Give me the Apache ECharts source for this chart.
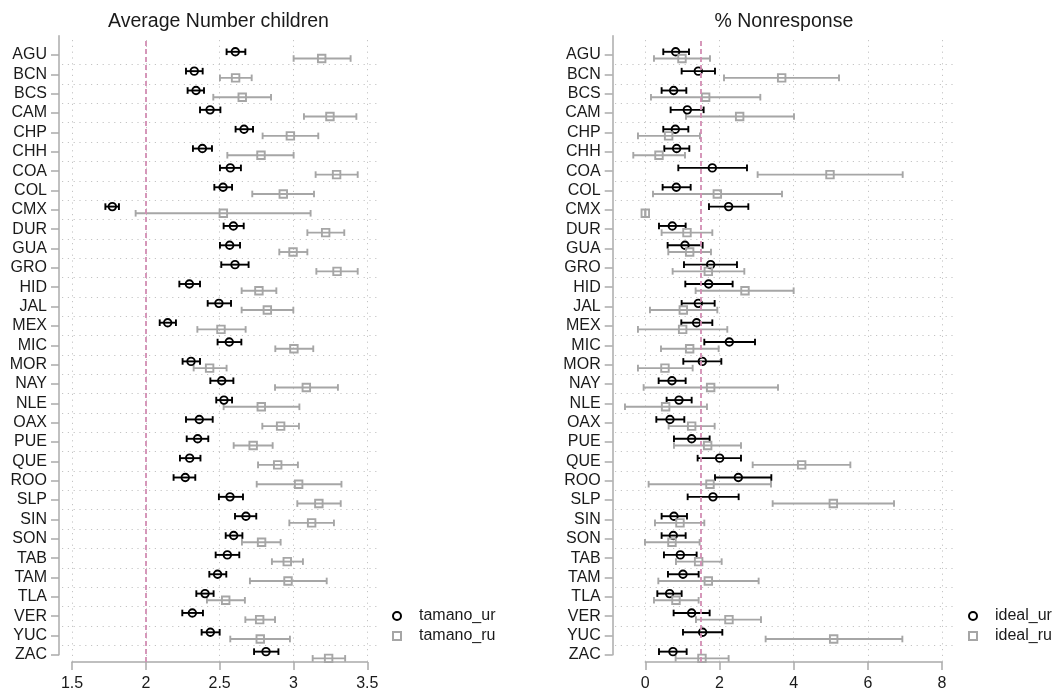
<!DOCTYPE html>
<html>
<head>
<meta charset="utf-8">
<script src="https://cdn.jsdelivr.net/npm/echarts@6/dist/echarts.min.js"></script>
<style>html,body{margin:0;padding:0;background:#fff}#c{width:1052px;height:692px}</style>
</head>
<body>
<div id="c"></div>
<script>
const states = ['AGU','BCN','BCS','CAM','CHP','CHH','COA','COL','CMX','DUR','GUA','GRO','HID','JAL','MEX','MIC','MOR','NAY','NLE','OAX','PUE','QUE','ROO','SLP','SIN','SON','TAB','TAM','TLA','VER','YUC','ZAC'];

// Average number of children
const tamano_ur_est = [2.606,2.328,2.340,2.435,2.665,2.383,2.572,2.523,1.773,2.593,2.568,2.604,2.295,2.495,2.148,2.565,2.306,2.514,2.529,2.362,2.351,2.297,2.267,2.570,2.678,2.595,2.552,2.486,2.401,2.315,2.437,2.814];
const tamano_ur_lo  = [2.547,2.272,2.283,2.367,2.608,2.319,2.502,2.464,1.726,2.527,2.502,2.511,2.227,2.419,2.094,2.486,2.249,2.437,2.477,2.272,2.277,2.231,2.188,2.495,2.604,2.541,2.473,2.430,2.342,2.247,2.378,2.733];
const tamano_ur_hi  = [2.674,2.385,2.394,2.505,2.726,2.448,2.644,2.584,1.818,2.663,2.638,2.696,2.367,2.577,2.204,2.647,2.367,2.593,2.584,2.453,2.423,2.370,2.335,2.658,2.748,2.654,2.633,2.545,2.459,2.387,2.500,2.898];
const tamano_ru_est = [3.191,2.608,2.653,3.247,2.979,2.780,3.292,2.931,2.525,3.218,2.997,3.295,2.766,2.823,2.509,3.003,2.432,3.087,2.782,2.913,2.727,2.893,3.035,3.172,3.123,2.784,2.958,2.963,2.541,2.771,2.775,3.238];
const tamano_ru_lo  = [3.001,2.502,2.457,3.071,2.791,2.552,3.150,2.721,1.931,3.094,2.904,3.155,2.649,2.649,2.349,2.877,2.324,2.875,2.527,2.789,2.595,2.760,2.751,3.026,2.972,2.651,2.854,2.705,2.414,2.674,2.572,3.130];
const tamano_ru_hi  = [3.387,2.717,2.848,3.426,3.168,3.001,3.435,3.139,3.116,3.344,3.094,3.435,2.884,2.999,2.676,3.134,2.547,3.301,3.040,3.037,2.859,3.030,3.325,3.320,3.274,2.913,3.064,3.225,2.671,2.875,2.976,3.350];

// % Nonresponse
const ideal_ur_est = [0.818,1.429,0.764,1.133,0.809,0.845,1.807,0.836,2.247,0.728,1.070,1.762,1.708,1.429,1.384,2.265,1.537,0.719,0.908,0.665,1.250,2.005,2.508,1.825,0.773,0.755,0.944,1.016,0.656,1.250,1.546,0.746];
const ideal_ur_lo  = [0.485,0.980,0.440,0.683,0.485,0.512,0.890,0.467,1.717,0.369,0.602,1.043,1.079,0.980,0.971,1.591,1.025,0.360,0.575,0.297,0.773,1.411,1.879,1.142,0.440,0.440,0.503,0.611,0.324,0.764,1.016,0.369];
const ideal_ur_hi  = [1.178,1.879,1.106,1.573,1.160,1.187,2.742,1.223,2.778,1.088,1.546,2.472,2.355,1.870,1.807,2.958,2.050,1.088,1.250,1.052,1.735,2.580,3.398,2.517,1.124,1.088,1.384,1.438,0.980,1.735,2.077,1.115];
const ideal_ru_est = [0.989,3.677,1.627,2.544,0.629,0.369,4.980,1.942,0.000,1.124,1.196,1.699,2.688,1.025,1.007,1.196,0.530,1.762,0.548,1.250,1.681,4.216,1.744,5.070,0.935,0.719,1.438,1.699,0.827,2.256,5.079,1.528];
const ideal_ru_lo  = [0.234,2.122,0.153,1.097,-0.198,-0.324,3.029,0.207,0.000,0.440,0.620,0.737,1.357,0.126,-0.198,0.423,-0.198,-0.045,-0.548,0.629,0.773,2.895,0.090,3.434,0.261,-0.009,0.827,0.351,0.234,1.366,3.245,0.818];
const ideal_ru_hi  = [1.744,5.223,3.101,4.009,1.474,1.070,6.940,3.686,0.000,1.807,1.771,2.670,4.000,1.942,2.211,1.978,1.277,3.578,1.663,1.870,2.580,5.529,3.389,6.706,1.591,1.465,2.059,3.056,1.438,3.119,6.931,2.247];

const xTicksLeft  = {min: 1.5, max: 3.5, step: 0.5};
const xTicksRight = {min: 0, max: 8, step: 2};
const refLeft = 2;
const refRight = 1.5;

const titles = ['Average Number children', '% Nonresponse'];
const legendNames = [['tamano_ur','tamano_ru'], ['ideal_ur','ideal_ru']];

// ---------- styling / layout ----------
const FONT = '"Liberation Sans", Arial, Helvetica, sans-serif';
const TXT = '#1a1a1a';
const AXC = '#ababab';
const GRIDC = '#c4c4c4';
const BLACK = '#000000';
const GREY = '#a6a6a6';
const PINK = '#d28db3';

const catTop = 55, catStep = 19.35;
const dataTop = catTop - catStep, dataH = catStep * 32;
const hTop = catTop - catStep / 2, hH = catStep * 32;
const axTop = 40, axBottom = 663;

const panels = [
  {axisX: 59, plotR: 378, t0px: 72, t1px: 367.3, ticks: xTicksLeft, ref: refLeft, hL: 62, hR: 377,
   ur: [tamano_ur_est, tamano_ur_lo, tamano_ur_hi], ru: [tamano_ru_est, tamano_ru_lo, tamano_ru_hi],
   legendLeft: 392},
  {axisX: 612.7, plotR: 955, t0px: 645.3, t1px: 942, ticks: xTicksRight, ref: refRight, hL: 615, hR: 955,
   ur: [ideal_ur_est, ideal_ur_lo, ideal_ur_hi], ru: [ideal_ru_est, ideal_ru_lo, ideal_ru_hi],
   legendLeft: 968}
];

const grids = [], xAxes = [], yAxes = [], series = [], titleOpts = [], legends = [];
const yCats = [' '].concat(states);
const dotted = [1.2, 4.6];

function errRender(color, off) {
  return function (params, api) {
    const y = api.value(2);
    const a = api.coord([api.value(0), y]);
    const b = api.coord([api.value(1), y]);
    const cy = a[1] + off, h = 3.3;
    const st = {stroke: color, lineWidth: 1.9, fill: null};
    return {type: 'group', children: [
      {type: 'line', shape: {x1: a[0], y1: cy, x2: b[0], y2: cy}, style: st},
      {type: 'line', shape: {x1: a[0], y1: cy - h, x2: a[0], y2: cy + h}, style: st},
      {type: 'line', shape: {x1: b[0], y1: cy - h, x2: b[0], y2: cy + h}, style: st}
    ]};
  };
}

panels.forEach(function (p, k) {
  const ppu = (p.t1px - p.t0px) / (p.ticks.max - p.ticks.min);
  const xmin = p.ticks.min - (p.t0px - p.axisX) / ppu;
  const xmax = p.ticks.max + (p.plotR - p.t1px) / ppu;
  const gD = grids.length, gA = gD + 1, gH = gD + 2;

  grids.push({left: p.axisX, top: dataTop, width: p.plotR - p.axisX, height: dataH});
  grids.push({left: p.t0px, top: axTop, width: p.t1px - p.t0px, height: axBottom - axTop});
  grids.push({left: p.hL, top: hTop, width: p.hR - p.hL, height: hH});

  // data grid axes
  xAxes.push({gridIndex: gD, type: 'value', min: xmin, max: xmax, show: false});
  yAxes.push({gridIndex: gD, type: 'category', data: yCats, inverse: true, boundaryGap: false, position: 'left',
    axisLine: {show: true, onZero: false, lineStyle: {color: AXC, width: 1.5}},
    axisTick: {show: true, length: 8, interval: function (i) { return i > 0; }, lineStyle: {color: AXC, width: 1.5}},
    axisLabel: {show: true, interval: 0, fontSize: 16, margin: 12, color: TXT, fontFamily: FONT},
    splitLine: {show: false}});

  // tick axis grid
  xAxes.push({gridIndex: gA, type: 'value', min: p.ticks.min, max: p.ticks.max, interval: p.ticks.step, position: 'bottom',
    axisLine: {show: true, onZero: false, lineStyle: {color: AXC, width: 1.5}},
    axisTick: {show: true, length: 8, lineStyle: {color: AXC, width: 1.5}},
    axisLabel: {fontSize: 16, margin: 14, color: TXT, fontFamily: FONT},
    splitLine: {show: true, lineStyle: {color: GRIDC, width: 1, type: dotted}}});
  yAxes.push({gridIndex: gA, type: 'value', min: 0, max: 1, show: false});

  // horizontal grid lines between categories
  xAxes.push({gridIndex: gH, type: 'value', min: 0, max: 1, show: false});
  yAxes.push({gridIndex: gH, type: 'category', data: states, inverse: true, boundaryGap: true,
    axisLine: {show: false, onZero: false}, axisTick: {show: false}, axisLabel: {show: false},
    splitLine: {show: true, interval: 0, showMinLine: false, showMaxLine: false,
      lineStyle: {color: GRIDC, width: 1, type: dotted}}});

  // reference dashed line
  series.push({type: 'scatter', xAxisIndex: gA, yAxisIndex: gA, data: [], silent: true,
    markLine: {silent: true, symbol: 'none', label: {show: false}, animation: false,
      lineStyle: {color: PINK, type: [5, 3], width: 1.8}, data: [{xAxis: p.ref}]}});

  const groups = [
    {name: legendNames[k][0], v: p.ur, color: BLACK, off: -3.2, symbol: 'circle', size: 7.5},
    {name: legendNames[k][1], v: p.ru, color: GREY, off: 3.5, symbol: 'rect', size: 7.5}
  ];
  groups.forEach(function (g) {
    series.push({type: 'custom', name: g.name + '_ci', xAxisIndex: gD, yAxisIndex: gD,
      renderItem: errRender(g.color, g.off), silent: true,
      encode: {x: [0, 1], y: 2},
      data: states.map(function (s, i) { return [g.v[1][i], g.v[2][i], i + 1]; })});
    series.push({type: 'scatter', name: g.name, xAxisIndex: gD, yAxisIndex: gD,
      symbol: g.symbol, symbolSize: g.size, symbolOffset: [0, g.off], silent: true,
      itemStyle: {color: 'rgba(255,255,255,0)', borderColor: g.color, borderWidth: 1.9, opacity: 1},
      data: states.map(function (s, i) { return [g.v[0][i], i + 1]; })});
  });

  titleOpts.push({text: titles[k], left: (p.axisX + p.plotR) / 2, top: 12, textAlign: 'center', padding: 0,
    textStyle: {fontSize: 19.5, fontWeight: 'normal', color: TXT, fontFamily: FONT}});

  legends.push({data: legendNames[k], orient: 'vertical', left: p.legendLeft, top: 606, padding: 0,
    itemWidth: 8, itemHeight: 8, itemGap: 0, selectedMode: false,
    textStyle: {fontSize: 16, color: TXT, fontFamily: FONT, lineHeight: 20, padding: [0, 0, 0, 13]}});
});

const chart = echarts.init(document.getElementById('c'), null, {renderer: 'canvas'});
chart.setOption({
  animation: false,
  backgroundColor: '#ffffff',
  textStyle: {fontFamily: FONT},
  title: titleOpts,
  legend: legends,
  grid: grids,
  xAxis: xAxes,
  yAxis: yAxes,
  series: series
});
</script>
</body>
</html>
